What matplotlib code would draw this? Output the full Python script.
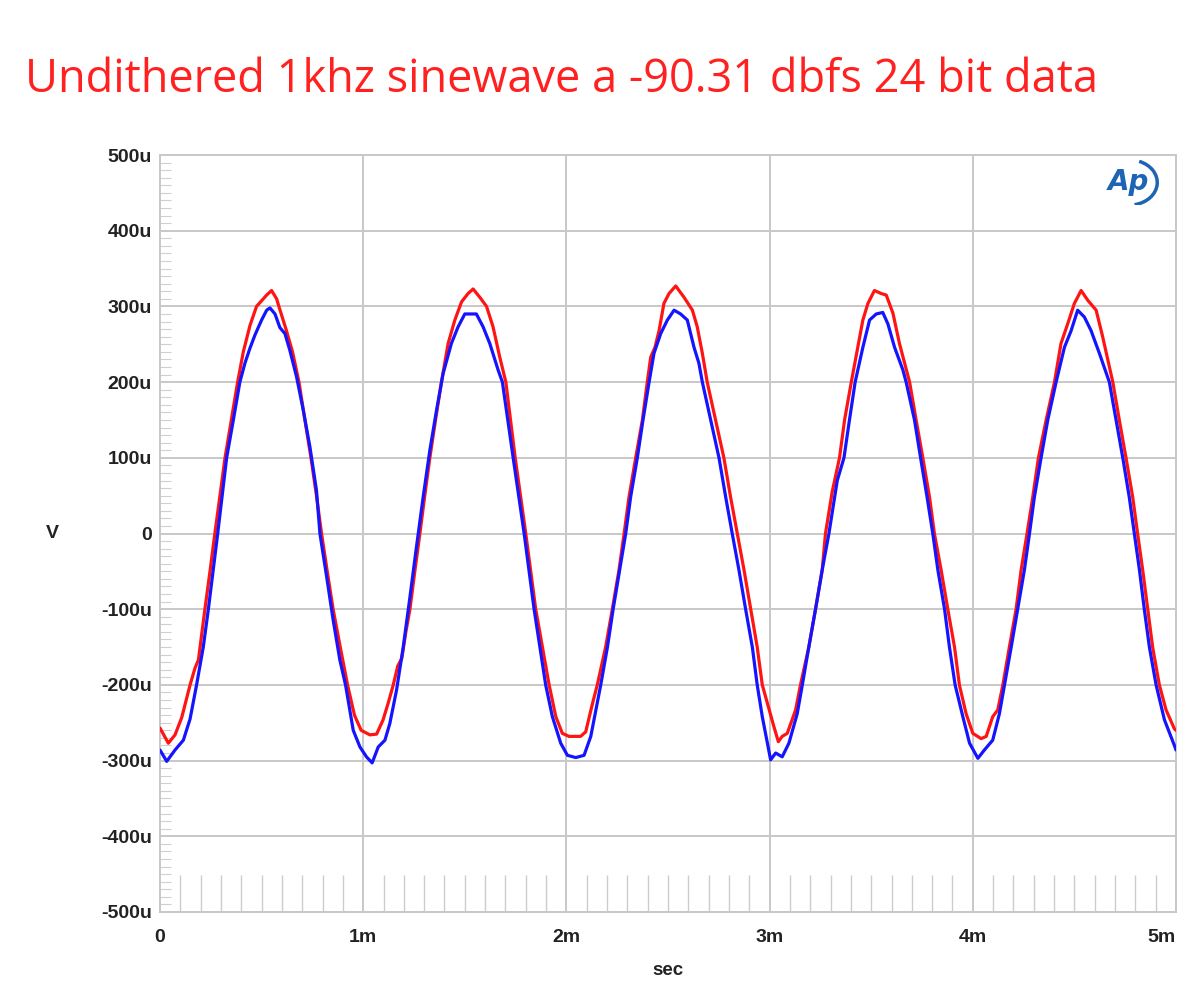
import numpy as np
import matplotlib.pyplot as plt
from matplotlib.patches import Arc
from matplotlib.ticker import MultipleLocator

# ---------------------------
# DATA (time in ms, level in uV)
# ---------------------------
red_t = [0.000, 0.041, 0.074, 0.107, 0.148, 0.172, 0.189, 0.221, 0.246, 0.270,
         0.295, 0.320, 0.351, 0.382, 0.410, 0.443, 0.475, 0.508, 0.525, 0.549,
         0.574, 0.585, 0.620, 0.652, 0.684, 0.713, 0.743, 0.770, 0.795, 0.823,
         0.852, 0.887, 0.923, 0.957, 0.990, 1.033, 1.066, 1.098, 1.123, 1.148,
         1.170, 1.190, 1.210, 1.230, 1.254, 1.279, 1.303, 1.328, 1.356, 1.385,
         1.418, 1.451, 1.484, 1.516, 1.541, 1.574, 1.607, 1.639, 1.672, 1.702,
         1.748, 1.800, 1.849, 1.915, 1.948, 1.980, 2.013, 2.070, 2.095, 2.128,
         2.152, 2.193, 2.226, 2.259, 2.284, 2.308, 2.341, 2.374, 2.398, 2.415,
         2.436, 2.456, 2.480, 2.505, 2.538, 2.579, 2.620, 2.644, 2.669, 2.693,
         2.734, 2.775, 2.808, 2.841, 2.874, 2.907, 2.939, 2.964, 2.989, 3.021,
         3.043, 3.062, 3.087, 3.128, 3.152, 3.193, 3.226, 3.259, 3.275, 3.308,
         3.344, 3.369, 3.402, 3.434, 3.459, 3.484, 3.516, 3.549, 3.574, 3.607,
         3.639, 3.689, 3.721, 3.754, 3.787, 3.811, 3.844, 3.877, 3.910, 3.934,
         3.967, 4.000, 4.041, 4.066, 4.098, 4.123, 4.148, 4.180, 4.213, 4.238,
         4.267, 4.295, 4.323, 4.361, 4.402, 4.434, 4.467, 4.500, 4.533, 4.566,
         4.607, 4.639, 4.689, 4.721, 4.754, 4.787, 4.811, 4.836, 4.861, 4.885,
         4.918, 4.951, 4.992, 5.000]
red_v = [-257, -277, -266, -243, -200, -178, -167, -100, -50, 0,
         50, 100, 150, 200, 240, 275, 300, 310, 315, 321,
         310, 300, 270, 240, 200, 150, 100, 50, 0, -50,
         -100, -150, -200, -240, -260, -266, -265, -246, -224, -200,
         -175, -165, -130, -100, -50, 0, 50, 100, 150, 200,
         251, 282, 306, 317, 323, 312, 300, 273, 233, 200,
         100, 0, -100, -200, -242, -264, -268, -268, -262, -225,
         -200, -150, -100, -48, 0, 48, 100, 150, 200, 233,
         246, 268, 304, 317, 327, 312, 295, 273, 238, 200,
         150, 100, 48, 0, -48, -100, -150, -200, -224, -255,
         -275, -268, -264, -233, -200, -150, -100, -48, 0, 55,
         100, 150, 200, 246, 282, 304, 321, 317, 315, 291,
         251, 200, 150, 100, 48, 0, -48, -100, -150, -200,
         -238, -264, -271, -268, -242, -233, -200, -150, -100, -48,
         0, 48, 100, 150, 200, 251, 277, 304, 321, 308,
         295, 260, 200, 150, 100, 48, 0, -48, -100, -150,
         -200, -233, -258, -260]

blue_t = [0.000, 0.033, 0.074, 0.115, 0.148, 0.180, 0.213, 0.238, 0.284, 0.328,
          0.361, 0.393, 0.418, 0.443, 0.467, 0.500, 0.525, 0.541, 0.566, 0.590,
          0.615, 0.639, 0.672, 0.705, 0.738, 0.770, 0.787, 0.820, 0.852, 0.885,
          0.913, 0.951, 0.984, 1.016, 1.044, 1.074, 1.107, 1.131, 1.164, 1.197,
          1.230, 1.262, 1.295, 1.328, 1.361, 1.393, 1.434, 1.467, 1.500, 1.533,
          1.557, 1.590, 1.623, 1.664, 1.685, 1.738, 1.792, 1.841, 1.898, 1.931,
          1.972, 2.005, 2.046, 2.087, 2.120, 2.152, 2.169, 2.202, 2.230, 2.262,
          2.292, 2.316, 2.349, 2.377, 2.407, 2.431, 2.464, 2.497, 2.530, 2.562,
          2.595, 2.628, 2.652, 2.669, 2.710, 2.751, 2.784, 2.816, 2.849, 2.882,
          2.915, 2.939, 2.964, 2.989, 3.005, 3.030, 3.062, 3.095, 3.136, 3.161,
          3.193, 3.226, 3.259, 3.292, 3.333, 3.366, 3.393, 3.421, 3.459, 3.492,
          3.525, 3.557, 3.582, 3.615, 3.656, 3.672, 3.713, 3.743, 3.775, 3.803,
          3.828, 3.861, 3.885, 3.913, 3.951, 3.984, 4.025, 4.057, 4.098, 4.131,
          4.156, 4.189, 4.221, 4.254, 4.279, 4.303, 4.336, 4.369, 4.410, 4.451,
          4.484, 4.516, 4.549, 4.582, 4.623, 4.672, 4.705, 4.738, 4.770, 4.795,
          4.820, 4.844, 4.869, 4.902, 4.943, 4.992, 5.000]
blue_v = [-286, -301, -286, -273, -245, -200, -150, -100, 0, 100,
          150, 200, 225, 245, 262, 282, 295, 298, 290, 272,
          264, 242, 207, 163, 114, 57, 0, -57, -114, -167,
          -200, -260, -282, -295, -303, -282, -273, -251, -207, -150,
          -84, -18, 48, 110, 163, 211, 251, 273, 290, 290,
          290, 273, 251, 216, 200, 100, 0, -100, -200, -242,
          -277, -293, -296, -293, -268, -224, -200, -150, -100, -48,
          0, 48, 100, 150, 200, 238, 264, 282, 295, 290,
          282, 246, 225, 200, 150, 100, 48, 0, -48, -100,
          -150, -200, -242, -277, -299, -290, -295, -277, -238, -200,
          -150, -100, -48, 0, 70, 100, 150, 200, 246, 282,
          290, 292, 277, 246, 216, 200, 150, 100, 48, 0,
          -48, -100, -150, -200, -242, -277, -297, -286, -273, -238,
          -200, -150, -100, -48, 0, 48, 100, 150, 200, 246,
          268, 295, 286, 268, 238, 200, 150, 100, 48, 0,
          -48, -100, -150, -200, -246, -280, -286]

x_ticks = [0, 1, 2, 3, 4, 5]
x_labels = ["0", "1m", "2m", "3m", "4m", "5m"]
y_ticks = [-500, -400, -300, -200, -100, 0, 100, 200, 300, 400, 500]
y_labels = ["-500u", "-400u", "-300u", "-200u", "-100u", "0",
            "100u", "200u", "300u", "400u", "500u"]

title = "Undithered 1khz sinewave a -90.31 dbfs 24 bit data"

# ---------------------------
# PLOT
# ---------------------------
fig = plt.figure(figsize=(12.01, 10.01), dpi=100)
ax = fig.add_axes([160 / 1201, 1 - 912 / 1001, 1016 / 1201, 757 / 1001])

grid_col = "#c8c8c8"
ax.plot(red_t, red_v, color="#ff1414", lw=2.3, zorder=3,
        solid_joinstyle="round", solid_capstyle="round")
ax.plot(blue_t, blue_v, color="#1414ff", lw=2.3, zorder=4,
        solid_joinstyle="round", solid_capstyle="round")

ax.set_xlim(0, 5)
ax.set_ylim(-500, 500)
ax.set_xticks(x_ticks)
ax.set_yticks(y_ticks)
ax.set_xticklabels(x_labels)
ax.set_yticklabels(y_labels)
ax.xaxis.set_minor_locator(MultipleLocator(0.1))
ax.yaxis.set_minor_locator(MultipleLocator(10))

ax.grid(True, which="major", color=grid_col, lw=1.4)
ax.tick_params(which="major", length=0, labelsize=14, labelcolor="#222222")
ax.tick_params(axis="y", which="major", pad=6)
ax.tick_params(axis="x", which="major", pad=12)
ax.tick_params(axis="y", which="minor", direction="in", length=8, width=0.8,
               color="#cfcfcf", left=True, right=False)
ax.tick_params(axis="x", which="minor", direction="in", length=27, width=1.0,
               color="#cccccc", bottom=True, top=False)
for lab in ax.get_xticklabels() + ax.get_yticklabels():
    lab.set_fontfamily("Liberation Sans")
    lab.set_fontweight("bold")
ax.get_xticklabels()[-1].set_horizontalalignment("right")

for sp in ax.spines.values():
    sp.set_color(grid_col)
    sp.set_linewidth(1.4)

ax.set_xlabel("sec", fontsize=13.5, fontfamily="Liberation Sans",
              fontweight="bold", color="#222222", labelpad=12)
ax.set_ylabel("V", fontsize=14, fontfamily="Liberation Sans",
              fontweight="bold", color="#222222", rotation=0, labelpad=35, va="center")

fig.text(25 / 1201, 1 - 80 / 1001, title, color="#ff2020", fontsize=32.5,
         fontfamily="Open Sans", va="center", ha="left")

# AP logo
fig.text(1128 / 1201, 1 - 182 / 1001, "Ap", color="#1e64b4", fontsize=20,
         fontweight="bold", fontstyle="italic", fontfamily="DejaVu Sans",
         ha="center", va="center")
logo_ax = fig.add_axes([1105 / 1201, 1 - 205 / 1001, 55 / 1201, 45 / 1001])
logo_ax.set_xlim(0, 1)
logo_ax.set_ylim(0, 1)
logo_ax.axis("off")
logo_ax.add_patch(Arc((0.45, 0.5), 1.0, 1.0, theta1=-80, theta2=70,
                      color="#1e64b4", lw=2.5))

fig.savefig("out.png", dpi=100)
